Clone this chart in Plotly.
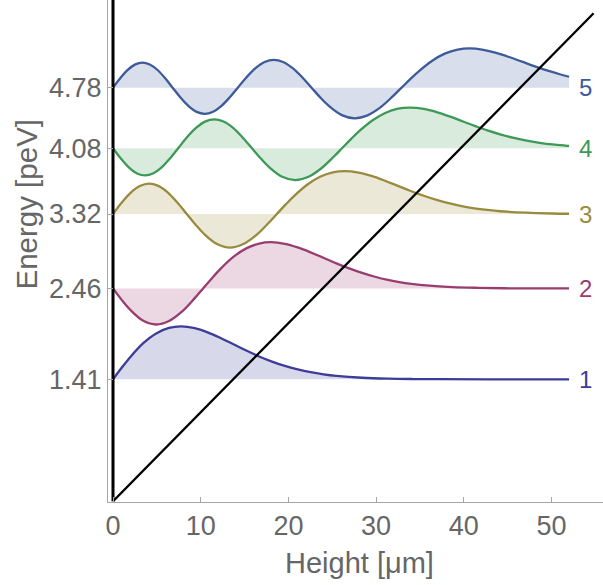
import plotly.graph_objects as go

# Energy levels (peV)
energies = [1.41, 2.46, 3.32, 4.08, 4.78]
level_labels = ["1", "2", "3", "4", "5"]
tick_text = ["1.41", "2.46", "3.32", "4.08", "4.78"]
x_ticks = [0, 10, 20, 30, 40, 50]

# Wavefunction heights (µm) and displacement from the level line (peV)
z1 = [0, 0.987, 1.985, 3.452, 4.920, 6.387, 7.744, 9.322, 10.790, 12.257, 13.725, 15.192, 16.660,
      18.127, 19.595, 21.062, 22.530, 23.997, 25.465, 28.400, 31.335, 34.270, 37.205, 43.075, 52]
p1 = [0, 0.133, 0.259, 0.417, 0.530, 0.593, 0.611, 0.591, 0.543, 0.478, 0.405, 0.332, 0.264,
      0.205, 0.154, 0.114, 0.082, 0.058, 0.040, 0.018, 0.0075, 0.003, 0.001, 0.000, 0.000]

z2 = [0, 0.986, 1.983, 3.451, 4.929, 6.386, 7.853, 9.321, 10.271, 11.258, 12.256, 13.723, 15.191,
      16.658, 18.016, 19.593, 21.061, 22.528, 23.996, 25.463, 26.931, 28.398, 29.866, 31.333,
      32.801, 34.268, 35.736, 38.671, 41.606, 44.541, 47.476, 52]
p2 = [0, -0.132, -0.249, -0.374, -0.417, -0.377, -0.269, -0.112, 0, 0.116, 0.226, 0.364, 0.463,
      0.518, 0.534, 0.516, 0.474, 0.417, 0.354, 0.290, 0.231, 0.179, 0.135, 0.099,
      0.071, 0.050, 0.035, 0.016, 0.007, 0.002, 0.001, 0.000]

z3 = [0, 1.001, 2.058, 3.056, 4.112, 5.169, 6.261, 7.341, 8.410, 9.396, 10.393, 11.861, 13.339,
      14.796, 16.263, 17.731, 18.681, 19.668, 20.666, 22.133, 23.601, 25.068, 26.426, 28.003,
      29.471, 30.938, 32.406, 33.873, 35.341, 36.808, 38.276, 39.743, 41.211, 42.678, 44.146,
      47.081, 50.016, 52]
p3 = [0, 0.133, 0.250, 0.324, 0.352, 0.325, 0.248, 0.132, 0, -0.122, -0.231, -0.347, -0.388,
      -0.350, -0.250, -0.104, 0, 0.108, 0.210, 0.338, 0.430, 0.481, 0.496, 0.479,
      0.440, 0.387, 0.328, 0.269, 0.214, 0.166, 0.125, 0.092, 0.066, 0.047, 0.032,
      0.015, 0.006, 0.003]

z4 = [0, 0.920, 1.830, 2.740, 3.659, 4.618, 5.545, 6.496, 7.432, 8.433, 9.490, 10.488, 11.544,
      12.601, 13.693, 14.773, 15.842, 16.828, 17.825, 19.293, 20.771, 22.228, 23.695, 25.163,
      26.113, 27.100, 28.098, 29.565, 31.033, 32.500, 33.858, 35.435, 36.903, 38.370, 39.838,
      41.305, 42.773, 44.240, 45.708, 47.175, 48.643, 50.110, 51.578, 52]
p4 = [0, -0.122, -0.223, -0.291, -0.314, -0.289, -0.222, -0.118, 0, 0.126, 0.237, 0.308, 0.334,
      0.309, 0.235, 0.125, 0, -0.116, -0.220, -0.330, -0.368, -0.333, -0.237, -0.099,
      0, 0.102, 0.200, 0.321, 0.408, 0.457, 0.470, 0.455, 0.418, 0.368, 0.312,
      0.256, 0.203, 0.158, 0.119, 0.087, 0.063, 0.044, 0.031, 0.028]

z5 = [0, 0.846, 1.679, 2.489, 3.357, 4.192, 5.078, 5.953, 6.794, 7.714, 8.624, 9.533, 10.453,
      11.412, 12.339, 13.290, 14.226, 15.227, 16.284, 17.282, 18.338, 19.395, 20.487, 21.567,
      22.636, 23.621, 24.619, 26.087, 27.565, 29.022, 30.489, 31.957, 32.907, 33.894, 34.892,
      36.359, 37.827, 39.294, 40.652, 42.229, 43.697, 45.164, 46.632, 48.099, 49.567, 51.034, 52]
p5 = [0, 0.112, 0.205, 0.266, 0.289, 0.268, 0.204, 0.108, 0, -0.117, -0.214, -0.280, -0.302,
      -0.278, -0.213, -0.114, 0, 0.121, 0.228, 0.296, 0.321, 0.297, 0.226, 0.121,
      0, -0.112, -0.211, -0.317, -0.354, -0.320, -0.228, -0.095, 0, 0.099, 0.192,
      0.309, 0.393, 0.439, 0.453, 0.437, 0.402, 0.354, 0.300, 0.246, 0.196, 0.152, 0.126]

# Gravitational potential line and the wall at zero height
gravity_x = [0, 54.8]
gravity_y = [0, 5.64]
wall_x = [0, 0]
wall_y = [0, 5.85]

line_colors = ["rgb(61,61,153)", "rgb(153,61,113)", "rgb(153,139,61)", "rgb(61,153,86)", "rgb(61,90,153)"]
fill_colors = ["rgba(61,61,153,0.2)", "rgba(153,61,113,0.2)", "rgba(153,139,61,0.2)",
               "rgba(61,153,86,0.2)", "rgba(61,90,153,0.2)"]

zs = [z1, z2, z3, z4, z5]
ps = [p1, p2, p3, p4, p5]

fig = go.Figure()
for i in range(5):
    E = energies[i]
    z = zs[i]
    fig.add_trace(go.Scatter(x=[z[0], z[-1]], y=[E, E], mode="lines",
                             line=dict(width=0, color=fill_colors[i]),
                             showlegend=False, hoverinfo="skip"))
    fig.add_trace(go.Scatter(x=z, y=[E + v for v in ps[i]], mode="lines",
                             line=dict(color=line_colors[i], width=2.3, shape="spline", smoothing=1),
                             fill="tonexty", fillcolor=fill_colors[i],
                             showlegend=False))

fig.add_trace(go.Scatter(x=gravity_x, y=gravity_y, mode="lines",
                         line=dict(color="black", width=2.3), showlegend=False))
fig.add_trace(go.Scatter(x=wall_x, y=wall_y, mode="lines",
                         line=dict(color="black", width=3), showlegend=False))

annotations = []
for i in range(5):
    annotations.append(dict(x=53.85, y=energies[i], xref="x", yref="y", text=level_labels[i],
                            showarrow=False, xanchor="center", yanchor="middle",
                            font=dict(size=24, color=line_colors[i])))
annotations.append(dict(x=0.509, y=-0.1215, xref="paper", yref="paper", text="Height [μm]",
                        showarrow=False, xanchor="center", yanchor="middle",
                        font=dict(size=29, color="#666666")))
annotations.append(dict(x=-0.1656, y=0.5926, xref="paper", yref="paper", text="Energy [peV]",
                        showarrow=False, xanchor="center", yanchor="middle", textangle=-90,
                        font=dict(size=29.5, color="#666666")))

fig.update_layout(
    width=603, height=585,
    margin=dict(l=108, r=0, t=0, b=83),
    paper_bgcolor="white", plot_bgcolor="white",
    font=dict(family="Liberation Sans, Arial, sans-serif", color="#666666"),
    annotations=annotations,
    xaxis=dict(range=[-0.57, 55.87], showgrid=False, zeroline=False,
               showline=True, linecolor="#a6a6a6", linewidth=1,
               tickmode="array", tickvals=x_ticks, ticktext=[str(t) for t in x_ticks],
               ticks="inside", ticklen=5, tickcolor="#a6a6a6",
               tickfont=dict(size=27, color="#666666")),
    yaxis=dict(range=[-0.008, 5.793], showgrid=False, zeroline=False,
               showline=True, linecolor="#a6a6a6", linewidth=1,
               tickmode="array", tickvals=energies, ticktext=tick_text,
               ticks="inside", ticklen=5, tickcolor="#a6a6a6",
               tickfont=dict(size=27, color="#666666")),
)

fig.write_html("out.html")
